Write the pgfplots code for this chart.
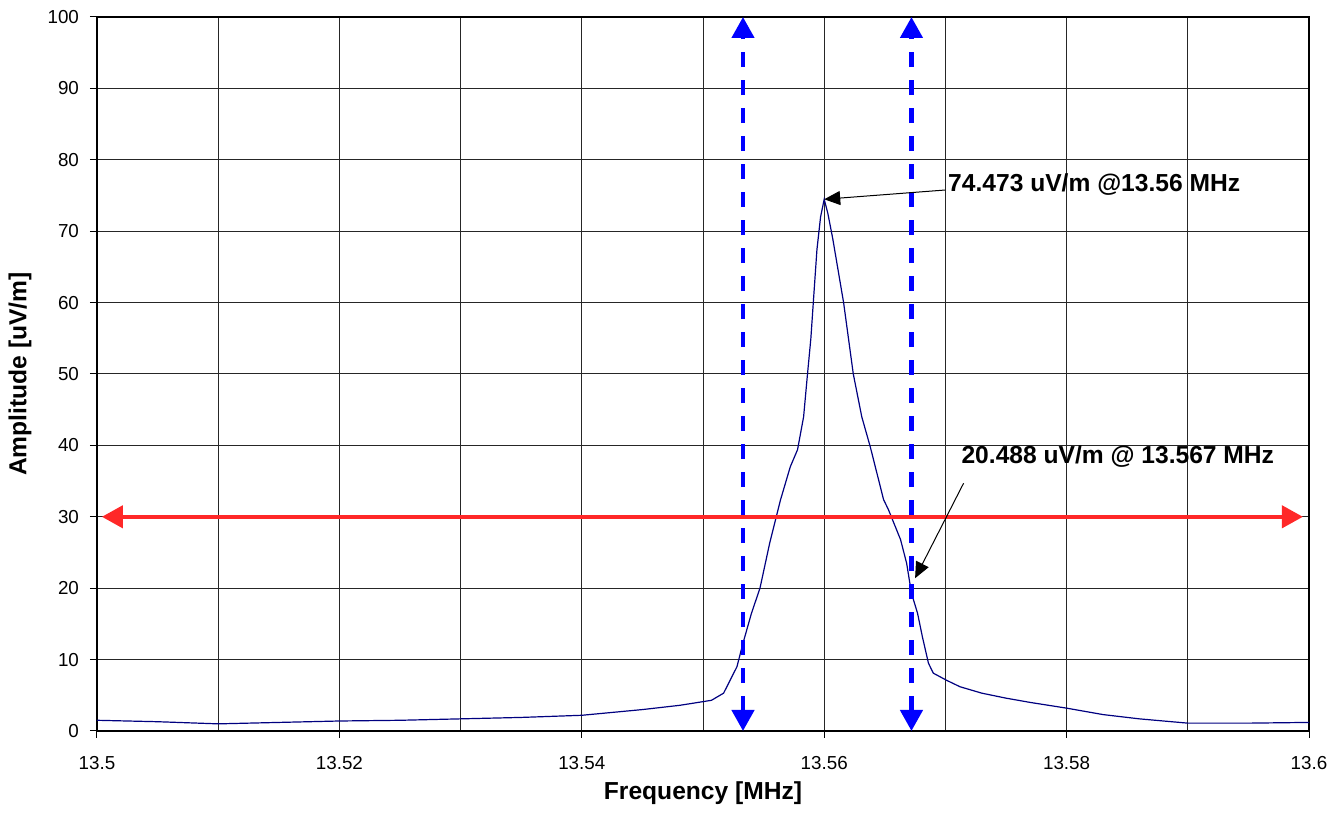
\documentclass[border=0pt]{standalone}
\usepackage{fontspec}
\setmainfont{Liberation Sans}
\usepackage{pgfplots}
\usepackage{pgfplotstable}
\pgfplotsset{compat=1.18}
\usetikzlibrary{arrows.meta,calc}

\definecolor{curve}{RGB}{0,0,128}
\definecolor{hline}{RGB}{255,40,40}
\definecolor{vline}{RGB}{0,0,255}

% measured field strength around 13.56 MHz
\pgfplotstableread{
f a
13.5000 1.5
13.5050 1.3
13.5100 1.0
13.5150 1.2
13.5200 1.4
13.5250 1.5
13.5300 1.7
13.5350 1.9
13.5400 2.2
13.5450 3.0
13.5481 3.6
13.5507 4.3
13.5517 5.3
13.5528 9.0
13.5533 12.3
13.5540 16.5
13.5547 20.0
13.5555 26.3
13.5564 32.4
13.5572 37.0
13.5578 39.4
13.5583 44.0
13.5586 49.6
13.5589 55.0
13.5591 60.0
13.5594 67.4
13.5597 72.0
13.5600 74.473
13.5603 72.5
13.5607 69.0
13.5611 65.0
13.5616 60.0
13.5624 50.0
13.5631 44.0
13.5638 39.8
13.5649 32.4
13.5653 31.0
13.5663 26.8
13.5668 23.5
13.5672 19.3
13.5677 16.5
13.5681 13.2
13.5686 9.5
13.5690 8.1
13.5701 7.1
13.5712 6.2
13.5730 5.3
13.5750 4.6
13.5770 4.0
13.5800 3.2
13.5830 2.3
13.5860 1.7
13.5900 1.1
13.5950 1.1
13.6000 1.2
}\spectrum

\begin{document}
\begin{tikzpicture}
\begin{axis}[
    name=ax,
    scale only axis,
    width=606pt, height=357pt,
    xmin=13.5, xmax=13.6,
    ymin=0, ymax=100,
    xtick={13.5,13.52,13.54,13.56,13.58,13.6},
    minor xtick={13.51,13.53,13.55,13.57,13.59},
    ytick={0,10,20,30,40,50,60,70,80,90,100},
    grid=both,
    major grid style={black!85, line width=0.5pt},
    minor grid style={black!85, line width=0.5pt},
    tick pos=left,
    tick align=outside,
    major tick length=3.5pt,
    minor tick length=0pt,
    tick style={black, line width=0.5pt},
    axis line style={black, line width=0.7pt},
    xticklabel style={/pgf/number format/fixed, /pgf/number format/precision=2, yshift=-5.5pt},
    yticklabel style={xshift=-2pt},
    /pgf/number format/assume math mode=true,
    ticklabel style={font=\fontsize{9.4}{11}\selectfont},
    label style={font=\fontsize{12.3}{14}\selectfont\bfseries},
    xlabel={Frequency [MHz]},
    ylabel={Amplitude [uV/m]},
    xlabel style={at={(axis description cs:0.5,-0.0868)}, anchor=center},
    ylabel style={at={(axis description cs:-0.0635,0.5)}, anchor=center},
    clip=false,
]
\addplot[curve, line width=0.6pt] table[x=f, y=a] {\spectrum};

\addplot[hline, line width=2pt, {Triangle[length=10.5pt,width=11pt]}-{Triangle[length=10.5pt,width=11pt]}]
    coordinates {(13.5004,30) (13.5995,30)};

\addplot[vline, line width=2.2pt, dash pattern=on 7.5pt off 6.5pt,
    {Triangle[length=10.5pt,width=11pt]}-{Triangle[length=10.5pt,width=11pt]}]
    coordinates {(13.5533,0) (13.5533,100)};
\addplot[vline, line width=2.2pt, dash pattern=on 7.5pt off 6.5pt,
    {Triangle[length=10.5pt,width=11pt]}-{Triangle[length=10.5pt,width=11pt]}]
    coordinates {(13.5672,0) (13.5672,100)};

\addplot[black, line width=0.5pt, -{Triangle[length=8pt,width=7pt]}]
    coordinates {(13.57,75.77) (13.56,74.47)};
\addplot[black, line width=0.5pt, -{Triangle[length=8pt,width=7pt]}]
    coordinates {(13.5715,34.7) (13.5675,21.4)};

\node[anchor=west, inner sep=0pt, font=\fontsize{12.3}{14}\selectfont\bfseries]
    at (axis cs:13.5702,76.5) {74.473 uV/m @13.56 MHz};
\node[anchor=west, inner sep=0pt, font=\fontsize{12.3}{14}\selectfont\bfseries]
    at (axis cs:13.5713,38.4) {20.488 uV/m @ 13.567 MHz};
\end{axis}
\pgfresetboundingbox
\path[use as bounding box] ($(ax.south west)+(-48.5pt,-43pt)$) rectangle ($(ax.north east)+(17pt,8.5pt)$);
\end{tikzpicture}
\end{document}
